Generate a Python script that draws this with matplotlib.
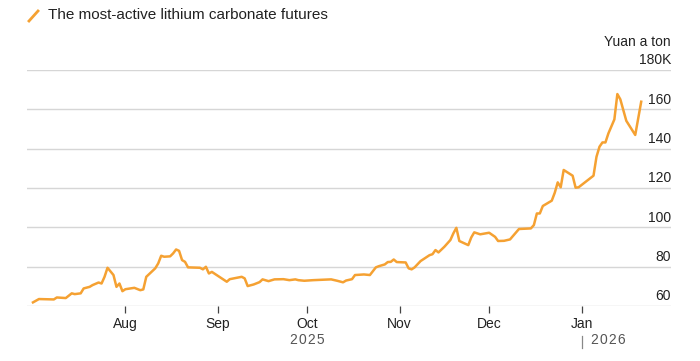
import pandas as pd
import matplotlib
matplotlib.use("Agg")
import matplotlib.pyplot as plt
import matplotlib.transforms as mtransforms
from matplotlib.lines import Line2D

# lithium carbonate futures, thousand yuan a ton
dates = [
    "2025-07-01", "2025-07-03", "2025-07-08", "2025-07-09", "2025-07-11", "2025-07-12",
    "2025-07-14", "2025-07-15", "2025-07-17", "2025-07-18", "2025-07-20", "2025-07-21",
    "2025-07-23", "2025-07-24", "2025-07-25", "2025-07-26", "2025-07-28", "2025-07-29",
    "2025-07-30", "2025-07-31", "2025-08-01", "2025-08-04", "2025-08-06", "2025-08-07",
    "2025-08-08", "2025-08-11", "2025-08-12", "2025-08-13", "2025-08-14", "2025-08-16",
    "2025-08-17", "2025-08-18", "2025-08-19", "2025-08-20", "2025-08-21", "2025-08-22",
    "2025-08-26", "2025-08-27", "2025-08-28", "2025-08-29", "2025-08-30", "2025-09-01",
    "2025-09-04", "2025-09-05", "2025-09-09", "2025-09-10", "2025-09-11", "2025-09-13",
    "2025-09-15", "2025-09-16", "2025-09-18", "2025-09-20", "2025-09-23", "2025-09-25",
    "2025-09-27", "2025-09-28", "2025-09-30", "2025-10-03", "2025-10-09", "2025-10-11",
    "2025-10-13", "2025-10-14", "2025-10-16", "2025-10-17", "2025-10-20", "2025-10-22",
    "2025-10-24", "2025-10-25", "2025-10-27", "2025-10-28", "2025-10-29", "2025-10-30",
    "2025-10-31", "2025-11-03", "2025-11-04", "2025-11-05", "2025-11-06", "2025-11-08",
    "2025-11-11", "2025-11-12", "2025-11-13", "2025-11-14", "2025-11-16", "2025-11-18",
    "2025-11-19", "2025-11-20", "2025-11-21", "2025-11-24", "2025-11-25", "2025-11-26",
    "2025-11-28", "2025-12-01", "2025-12-03", "2025-12-04", "2025-12-06", "2025-12-08",
    "2025-12-11", "2025-12-15", "2025-12-16", "2025-12-17", "2025-12-18", "2025-12-19",
    "2025-12-22", "2025-12-23", "2025-12-24", "2025-12-25", "2025-12-26", "2025-12-29",
    "2025-12-30", "2025-12-31", "2026-01-05", "2026-01-06", "2026-01-07", "2026-01-08",
    "2026-01-09", "2026-01-10", "2026-01-12", "2026-01-13", "2026-01-14", "2026-01-16",
    "2026-01-19", "2026-01-21",
]
prices = [
    61.9, 63.6, 63.4, 64.4, 64.2, 64.1,
    66.5, 66.1, 66.5, 69.0, 69.8, 70.7,
    72.0, 71.5, 74.9, 79.5, 75.8, 69.8,
    71.5, 67.6, 68.6, 69.3, 68.1, 68.5,
    74.9, 79.2, 81.7, 85.6, 85.1, 85.3,
    86.8, 88.8, 88.1, 83.4, 82.5, 79.7,
    79.5, 78.7, 80.0, 76.6, 77.4, 75.4,
    72.4, 73.7, 74.9, 74.1, 70.2, 71.0,
    72.2, 73.6, 72.7, 73.6, 73.7, 73.2,
    73.6, 73.2, 72.9, 73.2, 73.6, 72.9,
    72.1, 73.0, 73.7, 75.8, 76.1, 75.8,
    79.7, 80.3, 81.2, 82.4, 82.5, 83.7,
    82.4, 82.2, 79.2, 78.7, 79.7, 82.9,
    85.9, 86.4, 88.5, 87.3, 90.2, 93.6,
    97.0, 99.8, 93.1, 91.0, 94.9, 97.5,
    96.5, 97.3, 95.2, 93.1, 93.2, 93.9,
    99.2, 99.5, 101.2, 107.1, 107.1, 110.9,
    113.6, 117.6, 122.9, 120.4, 129.2, 126.3,
    120.2, 120.4, 126.3, 135.9, 141.0, 143.2,
    143.2, 147.8, 154.9, 167.8, 165.1, 154.2,
    147.0, 163.9,
]

y_ticks = [60, 80, 100, 120, 140, 160, 180]
y_labels = ["60", "80", "100", "120", "140", "160", "180K"]
month_ticks = ["2025-08-01", "2025-09-01", "2025-10-01", "2025-11-01", "2025-12-01", "2026-01-01"]
month_labels = ["Aug", "Sep", "Oct", "Nov", "Dec", "Jan"]

orange = "#F5A132"
grid_col = "#d6d6d6"
text_col = "#222222"
hs = "\u200a"  # hair space for the letter-spaced year labels

plt.rcParams["font.family"] = ["Liberation Sans", "DejaVu Sans"]

fig = plt.figure(figsize=(7, 3.61), dpi=100)
ax = fig.add_axes([0.0386, 0.152, 0.92, 0.654])

x = pd.to_datetime(dates)
ax.plot(x, prices, color=orange, lw=1.8, solid_joinstyle="round", zorder=3)

ax.set_xlim(pd.Timestamp("2025-06-29"), pd.Timestamp("2026-01-31"))
ax.set_ylim(60, 180)

for s in ax.spines.values():
    s.set_visible(False)

# horizontal grid and right-side labels sitting above each line
ax.set_yticks([])
trans = mtransforms.blended_transform_factory(ax.transAxes, ax.transData)
for v, lab in zip(y_ticks, y_labels):
    ax.axhline(v, color=grid_col, lw=1, zorder=1)
    ax.text(1.0, v + 1.4, lab, transform=trans, ha="right", va="bottom",
            fontsize=10, color=text_col)
ax.text(1.0, 1.118, "Yuan a ton", transform=ax.transAxes, ha="right", va="center",
        fontsize=10, color=text_col)

ax.set_xticks(pd.to_datetime(month_ticks))
ax.set_xticklabels(month_labels, fontsize=10, color=text_col)
ax.tick_params(axis="x", length=5, width=0.9, color="#444444", pad=3)

# year labels
xtrans = mtransforms.blended_transform_factory(ax.transData, ax.transAxes)
ax.text(pd.Timestamp("2025-10-01"), -0.145, hs.join("2025"), transform=xtrans,
        ha="center", va="center", fontsize=10, color="#555555")
ax.plot([pd.Timestamp("2026-01-01")] * 2, [-0.125, -0.178], transform=xtrans,
        color="#888888", lw=0.9, clip_on=False)
ax.text(pd.Timestamp("2026-01-04"), -0.145, hs.join("2026"), transform=xtrans,
        ha="left", va="center", fontsize=10, color="#555555")

# legend key at top left
fig.lines.append(Line2D([29 / 700, 38 / 700], [1 - 21 / 361, 1 - 11 / 361],
                        transform=fig.transFigure, color=orange, lw=2))
fig.text(48 / 700, 1 - 15 / 361, "The most-active lithium carbonate futures",
         ha="left", va="center", fontsize=11, color=text_col)

fig.savefig("out.png", dpi=100)
